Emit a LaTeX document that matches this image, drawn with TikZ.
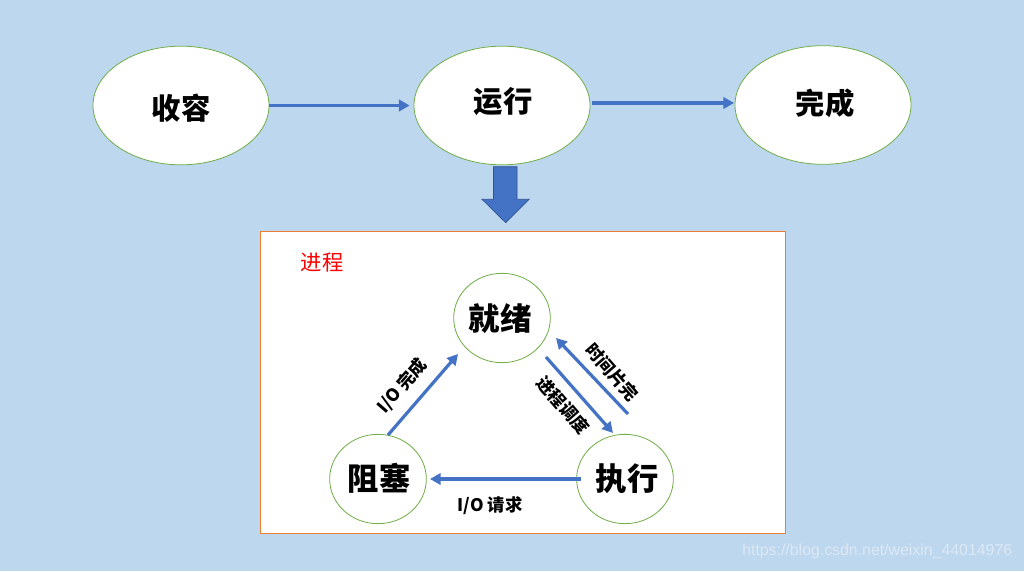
\documentclass[tikz,border=0pt]{standalone}
\usepackage{fontspec}
\setmainfont{Noto Sans CJK SC}
\newfontfamily\wmfont{Liberation Sans}
\usetikzlibrary{shapes.geometric,arrows.meta}
\definecolor{bgblue}{HTML}{BDD7EE}
\definecolor{arrowblue}{HTML}{4472C4}
\definecolor{arrowedge}{HTML}{2F528F}
\definecolor{ellgreen}{HTML}{70AD47}
\definecolor{boxorange}{HTML}{ED7D31}
\definecolor{wmcolor}{HTML}{DCE8F4}
\tikzset{
  bigell/.style={ellipse, draw=ellgreen, line width=0.6pt, fill=white, minimum width=132pt, minimum height=89pt, inner sep=0pt},
  smallell/.style={ellipse, draw=ellgreen, line width=0.6pt, fill=white, minimum width=72.5pt, minimum height=67pt, inner sep=0pt},
  bigtext/.style={font=\fontsize{22}{22}\selectfont\bfseries, inner sep=0pt},
  midtext/.style={font=\fontsize{23.5}{24}\selectfont\bfseries, inner sep=0pt},
  lbl/.style={font=\fontsize{13}{13}\selectfont\bfseries, inner sep=0pt},
  flow/.style={draw=arrowblue, line width=2.4pt, -{Triangle[length=8pt,width=8.5pt]}},
}
\begin{document}
\begin{tikzpicture}[x=0.75pt,y=-0.75pt]
\useasboundingbox (0,0) rectangle (1024,571);
\fill[bgblue] (0,0) rectangle (1024,571);

% top row
\node[bigell] (sr) at (181,105.5) {};
\node[bigell] (yx) at (502,105.5) {};
\node[bigell] (wc) at (823,105) {};
\node[bigtext] (srt) at (181,108) {收容};
\node[bigtext] (yxt) at (503,102) {运行};
\node[bigtext] (wct) at (825,103) {完成};

\draw[flow] ([yshift=0pt]sr.east) -- ([xshift=-3pt]yx.west);
\draw[flow] ([shift={(90,-2.5)}]yx.center) -- ([shift={(-89,-2)}]wc.center);

% big down arrow
\filldraw[fill=arrowblue, draw=arrowedge, line width=0.5pt]
  (493.5,166.7) -- (517,166.7) -- (517,199.3) -- (529,199.3) -- (505.7,222.7)
  -- (482,199.3) -- (493.5,199.3) -- cycle;

% box
\node[draw=boxorange, line width=0.6pt, fill=white, minimum width=393.75pt, minimum height=226.5pt, inner sep=0pt] (box) at (522.5,382) {};
\node[font=\fontsize{16}{16}\selectfont, text=red, inner sep=0pt] (jc) at (322,263) {进程};

% state circles
\node[smallell] (jx) at (502,318) {};
\node[smallell] (zs) at (378,479) {};
\node[smallell] (zx) at (625,479) {};
\node[midtext] (jxt) at (500,319) {就绪};
\node[midtext] (zst) at (379,478) {阻塞};
\node[midtext] (zxt) at (627,479) {执行};

% transitions
\draw[flow] ([shift={(10,-44)}]zs.center) -- ([shift={(-44,36)}]jx.center);
\draw[flow] ([shift={(44,39)}]jx.center) -- ([shift={(-12,-46)}]zx.center);
\draw[flow] ([shift={(3,-65)}]zx.center) -- ([shift={(54,20)}]jx.center);
\draw[flow] ([shift={(-44,0)}]zx.center) -- ([shift={(52,0)}]zs.center);

\node[lbl, rotate=49] (l1) at (402,386) {I/O 完成};
\node[lbl, rotate=-49] (l2) at (563,405) {进程调度};
\node[lbl, rotate=-49] (l3) at (612,372) {时间片完};
\node[lbl] (l4) at (490,506) {I/O 请求};

% watermark
\node[font=\wmfont\fontsize{11.9}{12}\selectfont, text=wmcolor, anchor=west, inner sep=0pt] (wm) at (742,551) {https://blog.csdn.net/weixin\_44014976};
\end{tikzpicture}
\end{document}
